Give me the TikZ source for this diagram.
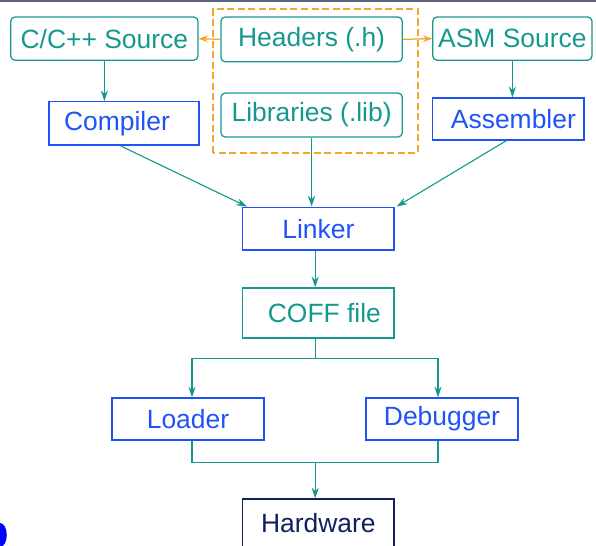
\documentclass[tikz,border=0pt]{standalone}
\usepackage{fontspec}
\setmainfont{Liberation Sans}
\usepackage{tikz}
\usetikzlibrary{positioning, arrows.meta, calc}

\definecolor{srcteal}{RGB}{22,152,142}
\definecolor{toolblue}{RGB}{32,82,250}
\definecolor{incorange}{RGB}{246,166,44}
\definecolor{hwnavy}{RGB}{16,32,92}
\definecolor{topgray}{RGB}{96,98,120}

\begin{document}
\begin{tikzpicture}[
  srcbox/.style={rectangle, rounded corners=3pt, draw=srcteal, line width=0.9pt, text=srcteal,
    font=\fontsize{18.8}{22}\selectfont, inner sep=0pt, minimum height=1.08cm},
  toolbox/.style={rectangle, draw=toolblue, line width=0.9pt, text=toolblue,
    font=\fontsize{18.8}{22}\selectfont, inner sep=0pt, minimum width=3.78cm, minimum height=1.07cm},
  flow/.style={draw=srcteal, line width=0.8pt, -{Stealth[length=2.7mm, width=1.8mm]}},
  link/.style={draw=srcteal, line width=0.8pt},
  incl/.style={draw=incorange, line width=0.9pt, -{Stealth[length=2.3mm, width=1.7mm]}}
]
  \useasboundingbox (0,0) rectangle (14.9,13.625);
  \fill[topgray] (0,13.575) rectangle (14.9,13.625);
  \fill[blue] (0,0.25) ellipse (0.17 and 0.3);

  % Sources and headers
  \node[srcbox, minimum width=4.68cm] (csrc) at (2.61,12.66) {C/C++ Source};
  \node[srcbox, minimum width=4.53cm, minimum height=1.12cm] (hdr) at (7.79,12.64) {Headers (.h)};
  \node[srcbox, minimum width=4.53cm, minimum height=1.1cm] (lib) at (7.79,10.75) {Libraries (.lib)};
  \node[srcbox, minimum width=3.98cm] (asm) at (12.81,12.66) {ASM Source};
  \draw[incorange, line width=0.8pt, dash pattern=on 5pt off 2.5pt] (5.325,9.8) rectangle (10.45,13.4);

  % Tools
  \node[toolbox, minimum width=3.75cm, minimum height=1.08cm] (comp) at (3.1,10.54) {\hspace{-0.35cm}Compiler};
  \node[toolbox, minimum height=1.05cm] (asmb) at (12.71,10.65) {\hspace{0.25cm}Assembler};
  \node[toolbox] (lnk) at (7.96,7.91) {Linker};
  \node[srcbox, rounded corners=0pt, minimum width=3.78cm, minimum height=1.25cm] (coff) at (7.96,5.8) {\hspace{0.3cm}COFF file};
  \node[toolbox, minimum width=3.8cm, minimum height=1.05cm] (load) at (4.7,3.15) {Loader};
  \node[toolbox, minimum width=3.8cm, minimum height=1.05cm] (dbg) at (11.05,3.15) {Debugger};
  \node[toolbox, draw=hwnavy, text=hwnavy, minimum height=1.2cm] (hw) at (7.96,0.55) {Hardware};

  % Header includes
  \draw[incl] (hdr.west) -- (csrc.east);
  \draw[incl] (hdr.east) -- (asm.west);

  % Build flow
  \draw[flow] (csrc.south) -- (csrc.south |- comp.north);
  \draw[flow] (asm.south) -- (asm.south |- asmb.north);
  \draw[flow] ([xshift=-0.1cm]comp.south) -- ([xshift=0.12cm]lnk.north west);
  \draw[flow] ([xshift=-0.05cm]asmb.south) -- ([xshift=0.05cm]lnk.north east);
  \draw[flow] (lib.south) -- (lib.south |- lnk.north);
  \draw[flow] ([xshift=-0.08cm]lnk.south) -- ([xshift=-0.08cm]coff.north);

  % Split to loader and debugger
  \coordinate (split) at ($(coff.south)+(-0.08,-0.5)$);
  \draw[link] ([xshift=-0.08cm]coff.south) -- (split);
  \draw[flow] (split) -| ([xshift=0.1cm]load.north);
  \draw[flow] (split) -| ([xshift=-0.1cm]dbg.north);

  % Merge to hardware
  \coordinate (merge) at ($(split)+(0,-2.6)$);
  \draw[link] ([xshift=0.1cm]load.south) |- ([xshift=-0.1cm]dbg.south |- merge) -- ([xshift=-0.1cm]dbg.south);
  \draw[flow] (merge) -- (merge |- hw.north);
\end{tikzpicture}
\end{document}
